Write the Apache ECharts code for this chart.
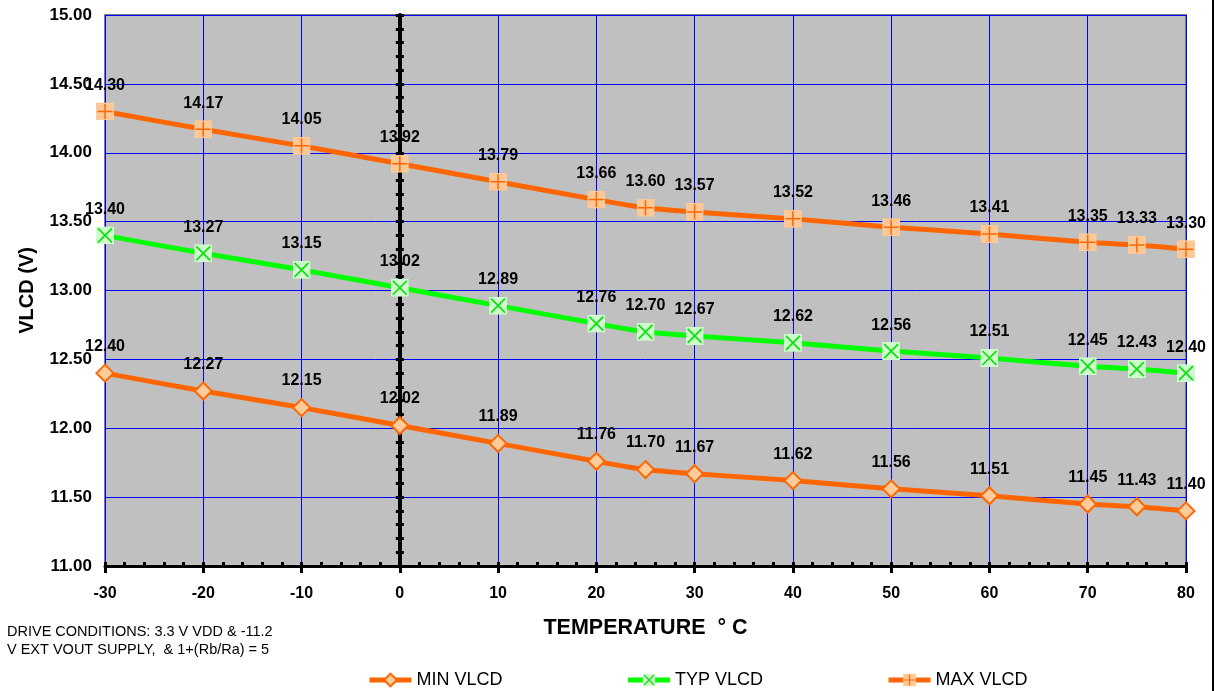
<!DOCTYPE html>
<html>
<head>
<meta charset="utf-8">
<script src="https://cdn.jsdelivr.net/npm/echarts@6/dist/echarts.min.js"></script>
<style>html,body{margin:0;padding:0;background:#fff}#c{width:1215px;height:691px}</style>
</head>
<body>
<div id="c"></div>
<script>
const temps = [-30, -20, -10, 0, 10, 20, 25, 30, 40, 50, 60, 70, 75, 80];
const minVlcd = [12.40, 12.27, 12.15, 12.02, 11.89, 11.76, 11.70, 11.67, 11.62, 11.56, 11.51, 11.45, 11.43, 11.40];
const typVlcd = [13.40, 13.27, 13.15, 13.02, 12.89, 12.76, 12.70, 12.67, 12.62, 12.56, 12.51, 12.45, 12.43, 12.40];
const maxVlcd = [14.30, 14.17, 14.05, 13.92, 13.79, 13.66, 13.60, 13.57, 13.52, 13.46, 13.41, 13.35, 13.33, 13.30];
const seriesNames = ['MIN VLCD', 'TYP VLCD', 'MAX VLCD'];
const xAxisTitle = 'TEMPERATURE  \u00b0 C';
const yAxisTitle = 'VLCD (V)';
const noteText = 'DRIVE CONDITIONS: 3.3 V VDD & -11.2\nV EXT VOUT SUPPLY,  & 1+(Rb/Ra) = 5';

const FONT = '"Liberation Sans", Arial, sans-serif';
function pts(vals) { return temps.map((t, i) => [t, vals[i]]); }
function svgSym(svg) { return 'image://data:image/svg+xml;charset=utf-8,' + encodeURIComponent(svg); }
const typSym = svgSym("<svg xmlns='http://www.w3.org/2000/svg' width='36' height='36'><rect x='0' y='0' width='36' height='36' fill='#CCFFCC'/><path d='M4 4L32 32M32 4L4 32' stroke='#11DD11' stroke-width='3.5'/></svg>");
const maxSym = svgSym("<svg xmlns='http://www.w3.org/2000/svg' width='36' height='36'><rect x='0' y='0' width='36' height='36' fill='#FFC896'/><path d='M18 3V33M3 18H33' stroke='#FF6600' stroke-width='3'/></svg>");

const labelCfg = {
  show: true, position: 'top', distance: 9, color: '#000',
  fontFamily: FONT, fontWeight: 'bold', fontSize: 16,
  formatter: p => p.value[1].toFixed(2)
};

const chart = echarts.init(document.getElementById('c'));
chart.setOption({
  animation: false,
  backgroundColor: '#fff',
  grid: {
    left: 105, right: 29, top: 15, bottom: 125,
    show: true, backgroundColor: '#C0C0C0', borderColor: '#808080', borderWidth: 2
  },
  xAxis: [
    {
      type: 'value', min: -30, max: 80, interval: 10, position: 'bottom',
      axisLine: { show: true, onZero: false, lineStyle: { color: '#000', width: 3 } },
      axisTick: { show: true, length: 7, lineStyle: { color: '#000', width: 3 } },
      axisLabel: { margin: 20, color: '#000', fontFamily: FONT, fontWeight: 'bold', fontSize: 16 },
      splitLine: { show: true, lineStyle: { color: '#0000FF', width: 1 } },
      name: xAxisTitle, nameLocation: 'middle', nameGap: 51,
      nameTextStyle: { color: '#000', fontFamily: FONT, fontWeight: 'bold', fontSize: 21.5 }
    },
    {
      type: 'value', min: -30, max: 80, interval: 10, position: 'bottom',
      axisLine: { show: false, onZero: false },
      axisTick: { show: true, inside: true, length: 4, lineStyle: { color: '#000', width: 3 } },
      minorTick: { show: true, splitNumber: 5, length: 4, lineStyle: { color: '#000', width: 3 } },
      axisLabel: { show: false }, splitLine: { show: false }
    }
  ],
  yAxis: [
    {
      type: 'value', min: 11, max: 15, interval: 0.5,
      axisLine: { show: false, onZero: false },
      axisTick: { show: false },
      axisLabel: { margin: 13, color: '#000', fontFamily: FONT, fontWeight: 'bold', fontSize: 17, formatter: v => v.toFixed(2) },
      splitLine: { show: true, lineStyle: { color: '#0000FF', width: 1 } },
      name: yAxisTitle, nameLocation: 'middle', nameGap: 68, nameRotate: 90,
      nameTextStyle: { color: '#000', fontFamily: FONT, fontWeight: 'bold', fontSize: 20 }
    },
    {
      type: 'value', min: 11, max: 15, interval: 0.5,
      axisLine: { show: true, onZero: true, onZeroAxisIndex: 0, lineStyle: { color: '#000', width: 4 } },
      axisTick: { show: true, length: 4, lineStyle: { color: '#000', width: 3 } },
      minorTick: { show: true, splitNumber: 5, length: 4, lineStyle: { color: '#000', width: 3 } },
      axisLabel: { show: false }, splitLine: { show: false }
    },
    {
      type: 'value', min: 11, max: 15, interval: 0.5,
      axisLine: { show: false, onZero: true, onZeroAxisIndex: 0 },
      axisTick: { show: true, inside: true, length: 4, lineStyle: { color: '#000', width: 3 } },
      minorTick: { show: true, splitNumber: 5, length: 4, lineStyle: { color: '#000', width: 3 } },
      axisLabel: { show: false }, splitLine: { show: false }
    }
  ],
  legend: {
    left: 367, top: 671, padding: 0, itemWidth: 42, itemHeight: 16, itemGap: 123,
    textStyle: { color: '#000', fontFamily: FONT, fontSize: 18 },
    lineStyle: { width: 5 },
    data: seriesNames
  },
  series: [
    {
      name: seriesNames[0], type: 'line', data: pts(minVlcd), smooth: 0.3, clip: false,
      symbol: 'diamond', symbolSize: [17, 17],
      lineStyle: { color: '#FF6600', width: 5 },
      itemStyle: { color: '#FFCC99', borderColor: '#FF6600', borderWidth: 2 },
      label: labelCfg, z: 3
    },
    {
      name: seriesNames[1], type: 'line', data: pts(typVlcd), smooth: 0.3, clip: false,
      symbol: typSym, symbolSize: 18,
      lineStyle: { color: '#00FF00', width: 5 },
      itemStyle: { color: '#00FF00' },
      label: labelCfg, z: 3
    },
    {
      name: seriesNames[2], type: 'line', data: pts(maxVlcd), smooth: 0.3, clip: false,
      symbol: maxSym, symbolSize: 18,
      lineStyle: { color: '#FF6600', width: 5 },
      itemStyle: { color: '#FF6600' },
      label: labelCfg, z: 3
    }
  ],
  graphic: [
    {
      type: 'text', left: 7, top: 623,
      style: { text: noteText, fill: '#000', font: '14.5px ' + FONT, lineHeight: 18 }
    },
    {
      type: 'rect', right: 1, top: 0,
      shape: { width: 2, height: 691 }, style: { fill: '#000' }
    }
  ]
});
</script>
</body>
</html>
